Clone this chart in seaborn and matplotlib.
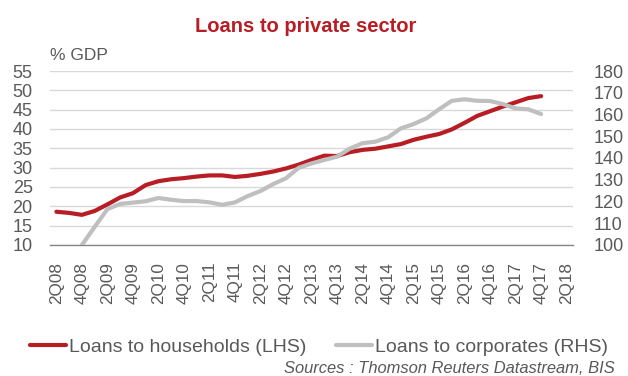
import numpy as np
import pandas as pd
import matplotlib
matplotlib.use("Agg")
import matplotlib.pyplot as plt
from matplotlib.lines import Line2D
import seaborn as sns

# Quarterly axis: 2Q08 .. 2Q18 (one label every second quarter)
quarters = ["2Q08", "3Q08", "4Q08", "1Q09", "2Q09", "3Q09", "4Q09", "1Q10",
            "2Q10", "3Q10", "4Q10", "1Q11", "2Q11", "3Q11", "4Q11", "1Q12",
            "2Q12", "3Q12", "4Q12", "1Q13", "2Q13", "3Q13", "4Q13", "1Q14",
            "2Q14", "3Q14", "4Q14", "1Q15", "2Q15", "3Q15", "4Q15", "1Q16",
            "2Q16", "3Q16", "4Q16", "1Q17", "2Q17", "3Q17", "4Q17", "1Q18",
            "2Q18"]

# Loans to households, % GDP (LHS), 2Q08 .. 4Q17
households = [18.6, 18.3, 17.8, 18.8, 20.5, 22.3, 23.4, 25.5, 26.5, 27.0,
              27.3, 27.7, 28.0, 28.0, 27.6, 27.9, 28.4, 29.0, 29.8, 30.8,
              32.0, 33.1, 33.0, 34.0, 34.6, 34.9, 35.5, 36.1, 37.2, 38.0,
              38.7, 39.9, 41.6, 43.4, 44.6, 45.8, 46.9, 48.0, 48.5]

# Loans to corporates, % GDP (RHS), 4Q08 .. 4Q17
corporates_start = "4Q08"
corporates = [100.0, 108.3, 116.5, 118.9, 119.5, 120.1, 121.6, 120.8, 120.2,
              120.2, 119.6, 118.5, 119.6, 122.5, 124.8, 128.0, 130.7, 135.5,
              137.5, 139.1, 140.6, 144.3, 146.8, 147.5, 149.5, 153.6, 155.6,
              158.2, 162.4, 166.3, 167.0, 166.3, 166.2, 164.8, 162.8, 162.4,
              160.2]

left_ticks = [10, 15, 20, 25, 30, 35, 40, 45, 50, 55]
right_ticks = [100, 110, 120, 130, 140, 150, 160, 170, 180]

RED = "#B81D24"
GREY = "#BFBFBF"
TXT = "#595959"

sns.set_style("white")
plt.rcParams["font.family"] = ["Liberation Sans", "DejaVu Sans"]

hh = pd.DataFrame({"q": np.arange(len(households)), "v": households})
c0 = quarters.index(corporates_start)
corp = pd.DataFrame({"q": np.arange(c0, c0 + len(corporates)), "v": corporates})

fig = plt.figure(figsize=(6.28, 3.76), dpi=100)
ax = fig.add_axes([50 / 628, 1 - 245 / 376, 523 / 628, 174 / 376])
ax2 = ax.twinx()

sns.lineplot(data=hh, x="q", y="v", ax=ax, color=RED, linewidth=3.0,
             solid_capstyle="round", zorder=3)
sns.lineplot(data=corp, x="q", y="v", ax=ax2, color=GREY, linewidth=3.0,
             solid_capstyle="round", zorder=3)

ax.set_xlim(-0.5, len(quarters) - 0.5)
ax.set_ylim(left_ticks[0], left_ticks[-1])
ax2.set_ylim(right_ticks[0], right_ticks[-1])

ax.set_yticks(left_ticks)
ax.set_yticklabels([str(t) for t in left_ticks])
ax2.set_yticks(right_ticks)
ax2.set_yticklabels([str(t) for t in right_ticks])

xt = np.arange(0, len(quarters), 2)
ax.set_xticks(xt)
ax.set_xticklabels([quarters[i] for i in xt], rotation=90)

for a in (ax, ax2):
    a.set_xlabel("")
    a.set_ylabel("")
    for s in a.spines.values():
        s.set_visible(False)

ax.grid(axis="y", color="#D9D9D9", linewidth=1.0)
ax.set_axisbelow(True)
ax.spines["bottom"].set_visible(True)
ax.spines["bottom"].set_color("#868686")
ax.spines["bottom"].set_linewidth(1.0)

ax.tick_params(axis="y", length=0, pad=12.5, labelsize=13, labelcolor=TXT)
ax.tick_params(axis="x", length=0, pad=12, labelsize=12.3, labelcolor=TXT)
ax2.tick_params(axis="y", length=0, pad=15, labelsize=13, labelcolor=TXT)

# Title, unit label, legend, source note
fig.text(305.5 / 628, 1 - 31.5 / 376, "Loans to private sector", color=RED,
         fontsize=14.5, fontweight="bold", ha="center", va="baseline")
fig.text(50 / 628, 1 - 59.5 / 376, "% GDP", color=TXT, fontsize=12.5,
         ha="left", va="baseline")

handles = [Line2D([], [], color=RED, linewidth=3.0),
           Line2D([], [], color=GREY, linewidth=3.0)]
fig.legend(handles, ["Loans to households (LHS)", "Loans to corporates (RHS)"],
           loc="center", bbox_to_anchor=(319 / 628, 1 - 347 / 376), ncol=2,
           frameon=False, fontsize=14, labelcolor=TXT, handlelength=1.85,
           handletextpad=0.15, columnspacing=1.5, borderaxespad=0)

fig.text(615 / 628, 1 - 373 / 376, "Sources : Thomson Reuters Datastream, BIS",
         color=TXT, fontsize=11.9, style="italic", ha="right", va="baseline")

fig.savefig("out.png", dpi=100)
